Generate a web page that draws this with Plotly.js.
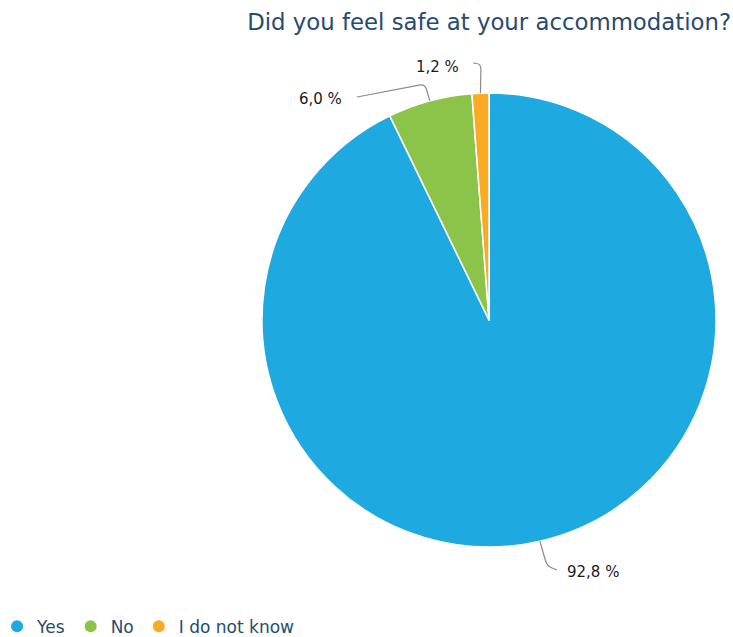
<!DOCTYPE html>
<html>
<head>
<meta charset="utf-8">
<script src="https://cdn.plot.ly/plotly-3.0.1.min.js"></script>
<style>html,body{margin:0;padding:0;background:#fff}#chart{width:733px;height:637px}</style>
</head>
<body>
<div id="chart"></div>
<script>
// ---- data ----
const labels = ['Yes', 'No', 'I do not know'];
const values = [92.8, 6.0, 1.2];
const colors = ['#1fa9e1', '#8bc449', '#fbaa24'];
const titleText = 'Did you feel safe at your accommodation?';

// ---- layout config (pixels) ----
const W = 733, H = 637;
const CX = 489, CY = 320, R = 227;
// connector bend / end points and label anchors, per slice
const labelCfg = [
  {bend: [547, 566], end: [557, 570], text: [565, 572], anchor: 'left'},
  {bend: [425, 84],  end: [357, 97],  text: [344, 99],  anchor: 'right'},
  {bend: [481, 64],  end: [473, 63],  text: [461, 67],  anchor: 'right'}
];
const fontFam = '"DejaVu Sans", Verdana, sans-serif';

const px = x => x / W;
const py = y => 1 - y / H;

const total = values.reduce((a, b) => a + b, 0);
let cum = 0;
const shapes = [], annotations = [];
values.forEach((v, i) => {
  const mid = (cum + v / 2) / total * 2 * Math.PI;
  cum += v;
  const sx = CX + R * Math.sin(mid), sy = CY - R * Math.cos(mid);
  const c = labelCfg[i];
  const [bx, by] = c.bend, [ex, ey] = c.end;
  const d1 = Math.hypot(sx - bx, sy - by), d2 = Math.hypot(ex - bx, ey - by);
  const k = 6;
  const p1x = bx + (sx - bx) * Math.min(k / d1, 0.5), p1y = by + (sy - by) * Math.min(k / d1, 0.5);
  const p2x = bx + (ex - bx) * Math.min(k / d2, 0.5), p2y = by + (ey - by) * Math.min(k / d2, 0.5);
  shapes.push({
    type: 'path', xref: 'paper', yref: 'paper',
    path: `M ${px(sx)} ${py(sy)} L ${px(p1x)} ${py(p1y)} Q ${px(bx)} ${py(by)} ${px(p2x)} ${py(p2y)} L ${px(ex)} ${py(ey)}`,
    line: {color: '#8a8a8a', width: 1.2}
  });
  annotations.push({
    xref: 'paper', yref: 'paper', x: px(c.text[0]), y: py(c.text[1]),
    xanchor: c.anchor, yanchor: 'middle', showarrow: false,
    text: v.toFixed(1).replace('.', ',') + ' %',
    font: {family: fontFam, size: 15, color: '#1a1a1a'}
  });
});

const traces = [{
  type: 'pie', labels: labels, values: values, sort: false, direction: 'clockwise', rotation: 0,
  marker: {colors: colors, line: {color: '#ffffff', width: 1.5}},
  textinfo: 'none', hoverinfo: 'label+percent', showlegend: false,
  domain: {x: [(CX - R) / W, (CX + R) / W], y: [1 - (CY + R) / H, 1 - (CY - R) / H]}
}];
labels.forEach((l, i) => traces.push({
  type: 'scatter', mode: 'markers', x: [null], y: [null], name: l,
  marker: {symbol: 'circle', size: 12, color: colors[i]}, hoverinfo: 'skip'
}));

const layout = {
  width: W, height: H, margin: {l: 0, r: 0, t: 0, b: 0, autoexpand: false},
  paper_bgcolor: '#ffffff', plot_bgcolor: '#ffffff',
  xaxis: {visible: false}, yaxis: {visible: false},
  title: {text: titleText, x: 731 / W, xanchor: 'right', xref: 'paper', y: 1 - 22 / H, yanchor: 'middle', yref: 'container',
          font: {family: fontFam, size: 22.8, color: '#274b6d'}},
  showlegend: true,
  legend: {orientation: 'h', x: -0.004, xanchor: 'left', xref: 'paper', y: -0.012, yanchor: 'bottom', yref: 'paper',
           bgcolor: 'rgba(0,0,0,0)',
           font: {family: fontFam, size: 17, color: '#274b6d'}, itemwidth: 30},
  shapes: shapes, annotations: annotations
};
Plotly.newPlot('chart', traces, layout, {displayModeBar: false, staticPlot: true});
</script>
</body>
</html>
